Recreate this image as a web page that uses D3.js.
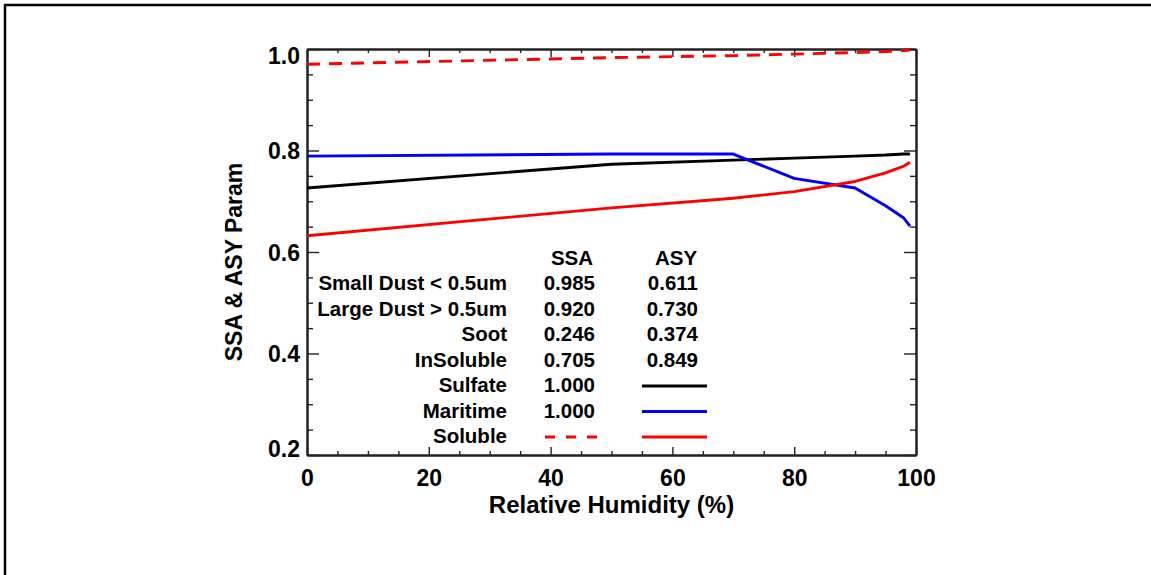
<!DOCTYPE html>
<html>
<head>
<meta charset="utf-8">
<script src="https://cdn.jsdelivr.net/npm/d3@7"></script>
<style>
  html, body { margin: 0; padding: 0; background: #fff; }
  svg { display: block; font-family: "Liberation Sans", Arial, Helvetica, sans-serif; font-weight: bold; }
</style>
</head>
<body>
<svg id="chart" width="1151" height="575"></svg>
<script>
// Relative humidity grid (%)
const humidity = [0, 50, 70, 80, 90, 95, 98, 99];

// Single scattering albedo and asymmetry parameter vs humidity
const ssaSoluble   = [0.970, 0.983, 0.987, 0.990, 0.993, 0.995, 0.997, 0.998];
const asySulfate   = [0.726, 0.773, 0.781, 0.785, 0.789, 0.791, 0.793, 0.793];
const asyMaritime  = [0.789, 0.793, 0.793, 0.745, 0.726, 0.691, 0.667, 0.651];
const asySoluble   = [0.632, 0.687, 0.706, 0.719, 0.739, 0.756, 0.769, 0.777];

// Tick labels
const xTicks = [0, 20, 40, 60, 80, 100];
const yTicks = [0.2, 0.4, 0.6, 0.8, 1.0];

// Table of fixed aerosol properties
const tableNames = ["Small Dust < 0.5um", "Large Dust > 0.5um", "Soot", "InSoluble", "Sulfate", "Maritime", "Soluble"];
const tableSSA   = ["0.985", "0.920", "0.246", "0.705", "1.000", "1.000", null];
const tableASY   = ["0.611", "0.730", "0.374", "0.849", null, null, null];

const svg = d3.select("#chart");

// frame around the figure
svg.append("path")
  .attr("d", "M5,575 L5,5 L1151,5")
  .attr("fill", "none").attr("stroke", "#000").attr("stroke-width", 2.5);

const plotLeft = 307, plotRight = 916, plotTop = 49, plotBottom = 455;
const x = d3.scaleLinear().domain([0, 100]).range([plotLeft, plotRight]);
const y = d3.scaleLinear().domain([0.2, 1.0]).range([plotBottom, plotTop]);

const axisColor = "#222";
const stepRange = (a, b, s) => d3.range(a, b + s / 2, s).map(v => +v.toFixed(3));
const xMinor = stepRange(0, 100, 5).filter(v => v % 20 !== 0);
const yMinor = stepRange(0.2, 1.0, 0.05).filter(v => !yTicks.some(t => Math.abs(t - v) < 1e-6));

function styleAxis(g) {
  g.select(".domain").attr("stroke", axisColor).attr("stroke-width", 2);
  g.selectAll(".tick line").attr("stroke", axisColor).attr("stroke-width", 1.4);
  g.selectAll(".tick text").attr("fill", "#000").attr("font-size", 23).attr("font-weight", "bold")
    .attr("font-family", "Liberation Sans, Arial, sans-serif");
}

// bottom axis
svg.append("g").attr("transform", `translate(0,${plotBottom})`)
  .call(d3.axisBottom(x).tickValues(xTicks).tickSize(-8).tickSizeOuter(0).tickPadding(15).tickFormat(d3.format("d")))
  .call(styleAxis)
  .call(g => g.selectAll(".tick text").attr("dy", "0.71em"));
svg.append("g").attr("transform", `translate(0,${plotBottom})`)
  .call(d3.axisBottom(x).tickValues(xMinor).tickSize(-4).tickSizeOuter(0).tickFormat(""))
  .call(styleAxis);

// top axis
svg.append("g").attr("transform", `translate(0,${plotTop})`)
  .call(d3.axisTop(x).tickValues(xTicks).tickSize(-8).tickSizeOuter(0).tickFormat(""))
  .call(styleAxis);
svg.append("g").attr("transform", `translate(0,${plotTop})`)
  .call(d3.axisTop(x).tickValues(xMinor).tickSize(-4).tickSizeOuter(0).tickFormat(""))
  .call(styleAxis);

// left axis
svg.append("g").attr("transform", `translate(${plotLeft},0)`)
  .call(d3.axisLeft(y).tickValues(yTicks).tickSize(-12).tickSizeOuter(0).tickPadding(7).tickFormat(d3.format(".1f")))
  .call(styleAxis)
  .call(g => g.selectAll(".tick text")
    .attr("dy", d => d === 1.0 ? "0.65em" : d === 0.2 ? "0.05em" : "0.35em"));
svg.append("g").attr("transform", `translate(${plotLeft},0)`)
  .call(d3.axisLeft(y).tickValues(yMinor).tickSize(-6).tickSizeOuter(0).tickFormat(""))
  .call(styleAxis);

// right axis
svg.append("g").attr("transform", `translate(${plotRight},0)`)
  .call(d3.axisRight(y).tickValues(yTicks).tickSize(-12).tickSizeOuter(0).tickFormat(""))
  .call(styleAxis);
svg.append("g").attr("transform", `translate(${plotRight},0)`)
  .call(d3.axisRight(y).tickValues(yMinor).tickSize(-6).tickSizeOuter(0).tickFormat(""))
  .call(styleAxis);

// axis titles
svg.append("text")
  .attr("x", (plotLeft + plotRight) / 2).attr("y", 513)
  .attr("text-anchor", "middle").attr("font-size", 24)
  .text("Relative Humidity (%)");
svg.append("text")
  .attr("transform", `translate(242,${(plotTop + plotBottom) / 2 + 10}) rotate(-90)`)
  .attr("text-anchor", "middle").attr("font-size", 23)
  .text("SSA & ASY Param");

// curves
const line = vals => d3.line().x((d, i) => x(humidity[i])).y(d => y(d))(vals);
const curves = [
  { vals: ssaSoluble,  color: "#ff0000", dash: "13,9" },
  { vals: asySulfate,  color: "#000000", dash: null },
  { vals: asyMaritime, color: "#0000ff", dash: null },
  { vals: asySoluble,  color: "#ff0000", dash: null }
];
curves.forEach(c => {
  svg.append("path")
    .attr("d", line(c.vals))
    .attr("fill", "none")
    .attr("stroke", c.color)
    .attr("stroke-width", 2.9)
    .attr("stroke-linejoin", "round")
    .attr("stroke-dasharray", c.dash);
});

// property table
const tbl = svg.append("g").attr("font-size", 20.5);
const nameX = 507, ssaX = 595, asyX = 698;
const row0 = 290, rowStep = 25.5;
tbl.append("text").attr("x", 572).attr("y", row0 - rowStep).attr("text-anchor", "middle").text("SSA");
tbl.append("text").attr("x", 676).attr("y", row0 - rowStep).attr("text-anchor", "middle").text("ASY");
tableNames.forEach((name, i) => {
  const yy = row0 + i * rowStep;
  tbl.append("text").attr("x", nameX).attr("y", yy).attr("text-anchor", "end").text(name);
  if (tableSSA[i]) tbl.append("text").attr("x", ssaX).attr("y", yy).attr("text-anchor", "end").text(tableSSA[i]);
  if (tableASY[i]) tbl.append("text").attr("x", asyX).attr("y", yy).attr("text-anchor", "end").text(tableASY[i]);
});

// line keys in the table
const keyRow = name => row0 + tableNames.indexOf(name) * rowStep - 6;
const keys = [
  { row: "Sulfate",  x0: 642, x1: 707, color: "#000000", dash: null },
  { row: "Maritime", x0: 642, x1: 707, color: "#0000ff", dash: null },
  { row: "Soluble",  x0: 642, x1: 707, color: "#ff0000", dash: null },
  { row: "Soluble",  x0: 545, x1: 597, color: "#ff0000", dash: "10,11" }
];
keys.forEach(k => {
  svg.append("line")
    .attr("x1", k.x0).attr("x2", k.x1)
    .attr("y1", keyRow(k.row)).attr("y2", keyRow(k.row))
    .attr("stroke", k.color).attr("stroke-width", 2.9)
    .attr("stroke-dasharray", k.dash);
});
</script>
</body>
</html>
